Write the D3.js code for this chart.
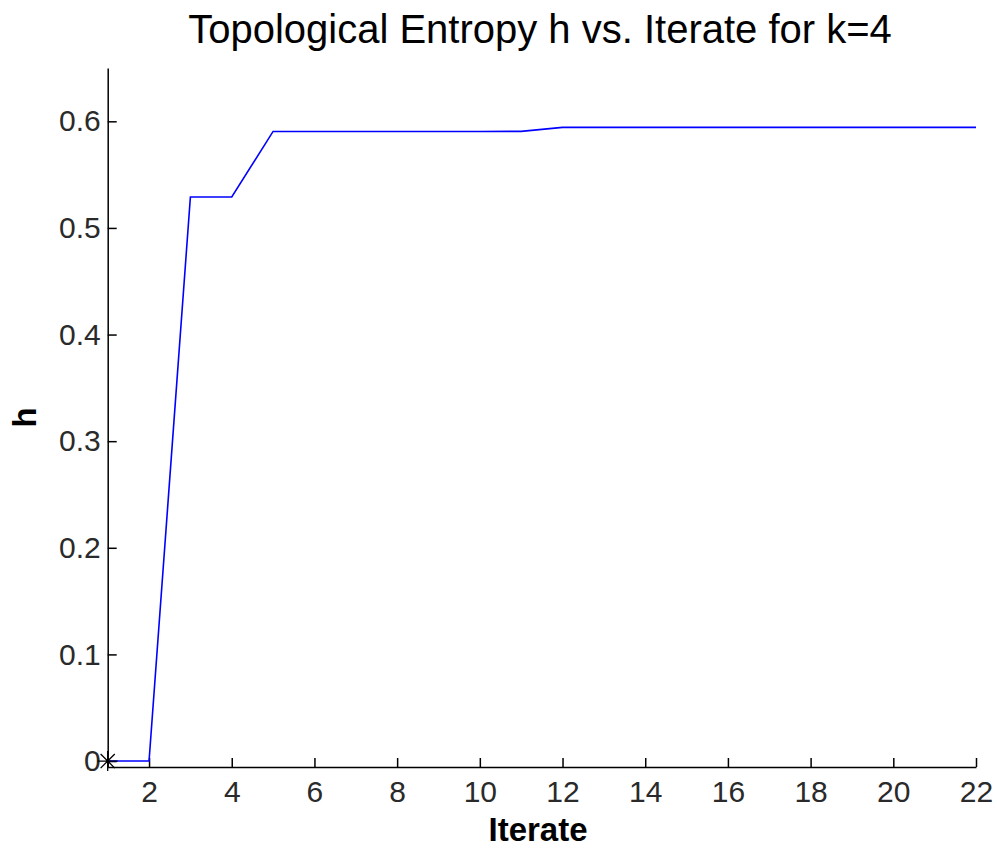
<!DOCTYPE html>
<html>
<head>
<meta charset="utf-8">
<script src="https://cdn.jsdelivr.net/npm/d3@7"></script>
<style>
  body { margin: 0; background: #fff; }
  text { font-family: "Liberation Sans", Arial, sans-serif; }
</style>
</head>
<body>
<div id="chart"></div>
<script>
// data
const iterates = [1, 2, 3, 4, 5, 6, 7, 8, 9, 10, 11, 12, 13, 14, 15, 16, 17, 18, 19, 20, 21, 22];
const entropy = [0, 0, 0.529, 0.529, 0.5905, 0.5905, 0.5905, 0.5905, 0.5905, 0.5905, 0.5906,
                 0.5943, 0.5943, 0.5943, 0.5943, 0.5943, 0.5943, 0.5943, 0.5943, 0.5943, 0.5943, 0.5943];
const xTicks = [2, 4, 6, 8, 10, 12, 14, 16, 18, 20, 22];
const yTicks = [0, 0.1, 0.2, 0.3, 0.4, 0.5, 0.6];
const startPoint = [{x: 1, y: 0}];

const W = 997, H = 848;
const svg = d3.select("#chart").append("svg")
    .attr("width", W)
    .attr("height", H);

// plot box
const boxL = 107.7, boxR = 976, boxT = 68, boxB = 767;
const x = d3.scaleLinear().domain([1, 22]).range([boxL, boxR]);
const y = d3.scaleLinear().domain([-0.0056, 0.65]).range([boxB, boxT]);

// axes (ticks point inward, MATLAB style)
const xAxis = svg.append("g")
    .attr("transform", "translate(0," + boxB + ")")
    .call(d3.axisBottom(x).tickValues(xTicks).tickSizeInner(-9).tickSizeOuter(0).tickPadding(14));
const yAxis = svg.append("g")
    .attr("transform", "translate(" + boxL + ",0)")
    .call(d3.axisLeft(y).tickValues(yTicks).tickSizeInner(-9).tickSizeOuter(0).tickPadding(7)
        .tickFormat(d => d === 0 ? "0" : d3.format(".1f")(d)));

[xAxis, yAxis].forEach(function(g) {
    g.select(".domain").attr("stroke", "#000").attr("stroke-width", 1.5);
    g.selectAll(".tick line").attr("stroke", "#000").attr("stroke-width", 1.5);
    g.selectAll(".tick text")
        .attr("fill", "#2a2a2a")
        .style("font-family", "'Liberation Sans', Arial, sans-serif")
        .style("font-size", "30px");
});
xAxis.selectAll(".tick text").attr("dy", "0.71em");

// entropy line
const line = d3.line()
    .x((d, i) => x(iterates[i]))
    .y(d => y(d));
svg.append("path")
    .datum(entropy)
    .attr("fill", "none")
    .attr("stroke", "#0000ff")
    .attr("stroke-width", 1.6)
    .attr("d", line);

// '*' marker at the start
const starSymbol = {
    draw: function(ctx, size) {
        const r = Math.sqrt(size) / 2;
        const s = r * Math.SQRT1_2;
        ctx.moveTo(-r, 0); ctx.lineTo(r, 0);
        ctx.moveTo(0, -r); ctx.lineTo(0, r);
        ctx.moveTo(-s, -s); ctx.lineTo(s, s);
        ctx.moveTo(-s, s); ctx.lineTo(s, -s);
    }
};
svg.selectAll(".star")
    .data(startPoint)
    .enter().append("path")
    .attr("class", "star")
    .attr("transform", d => "translate(" + x(d.x) + "," + y(d.y) + ")")
    .attr("d", d3.symbol().type(starSymbol).size(400))
    .attr("fill", "none")
    .attr("stroke", "#000")
    .attr("stroke-width", 1.3);

// titles
svg.append("text")
    .attr("x", 540)
    .attr("y", 43)
    .attr("text-anchor", "middle")
    .style("font-size", "40px")
    .text("Topological Entropy h vs. Iterate for k=4");

svg.append("text")
    .attr("x", 538)
    .attr("y", 841)
    .attr("text-anchor", "middle")
    .style("font-size", "33px")
    .style("font-weight", "bold")
    .text("Iterate");

svg.append("text")
    .attr("transform", "translate(36," + ((boxT + boxB) / 2) + ") rotate(-90)")
    .attr("text-anchor", "middle")
    .style("font-size", "33px")
    .style("font-weight", "bold")
    .text("h");
</script>
</body>
</html>
